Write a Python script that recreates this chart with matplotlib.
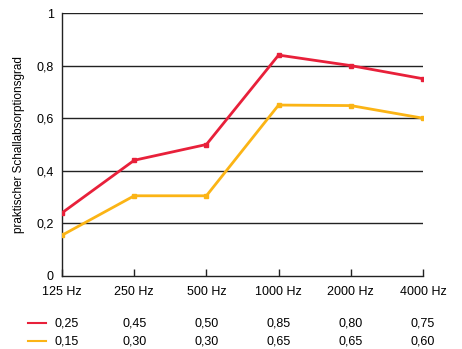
import matplotlib
matplotlib.use("Agg")
import matplotlib.pyplot as plt
import matplotlib.transforms as mtransforms

categories = ["125 Hz", "250 Hz", "500 Hz", "1000 Hz", "2000 Hz", "4000 Hz"]
red_values = [0.24, 0.44, 0.50, 0.84, 0.80, 0.75]
yellow_values = [0.155, 0.305, 0.305, 0.65, 0.648, 0.60]
red_labels = ["0,25", "0,45", "0,50", "0,85", "0,80", "0,75"]
yellow_labels = ["0,15", "0,30", "0,30", "0,65", "0,65", "0,60"]
yticks = [0, 0.2, 0.4, 0.6, 0.8, 1.0]
ytick_labels = ["0", "0,2", "0,4", "0,6", "0,8", "1"]
ylabel = "praktischer Schallabsorptionsgrad"

RED = "#e8203a"
YEL = "#fbb415"

plt.rcParams["font.family"] = ["Liberation Sans", "DejaVu Sans"]

fig = plt.figure(figsize=(4.62, 3.49), dpi=100)
ax = fig.add_axes([62/462, 1-276/349, (423-62)/462, (276-13)/349])

x = list(range(len(categories)))
for yv in yticks[1:]:
    ax.axhline(yv, color="#222222", lw=1.0, zorder=1)
ax.plot(x, red_values, color=RED, lw=2.0, marker="s", ms=3, zorder=3)
ax.plot(x, yellow_values, color=YEL, lw=2.0, marker="s", ms=3, zorder=3)

ax.set_xlim(0, len(categories) - 1)
ax.set_ylim(0, 1)
ax.set_xticks(x)
ax.set_xticklabels(categories, fontsize=9)
ax.set_yticks(yticks)
ax.set_yticklabels(ytick_labels, fontsize=9)
ax.tick_params(axis="x", direction="in", length=5, width=1, pad=7, colors="#222222", labelcolor="black")
ax.tick_params(axis="y", length=0, pad=6, labelcolor="black")
for s in ["top", "right"]:
    ax.spines[s].set_visible(False)
for s in ["left", "bottom"]:
    ax.spines[s].set_color("#222222")
    ax.spines[s].set_linewidth(1.0)
ax.set_ylabel(ylabel, fontsize=8.5, labelpad=8)

trans = mtransforms.blended_transform_factory(ax.transData, fig.transFigure)
y_red = 1 - 323/349
y_yel = 1 - 341/349
for i in x:
    off = 0.06 if i == 0 else 0
    ax.text(i + off, y_red, red_labels[i], transform=trans, ha="center", va="center", fontsize=9)
    ax.text(i + off, y_yel, yellow_labels[i], transform=trans, ha="center", va="center", fontsize=9)

fig.add_artist(plt.Line2D([28/462, 46/462], [y_red, y_red], color=RED, lw=1.5))
fig.add_artist(plt.Line2D([28/462, 46/462], [y_yel, y_yel], color=YEL, lw=1.5))

fig.savefig("out.png", dpi=100)
